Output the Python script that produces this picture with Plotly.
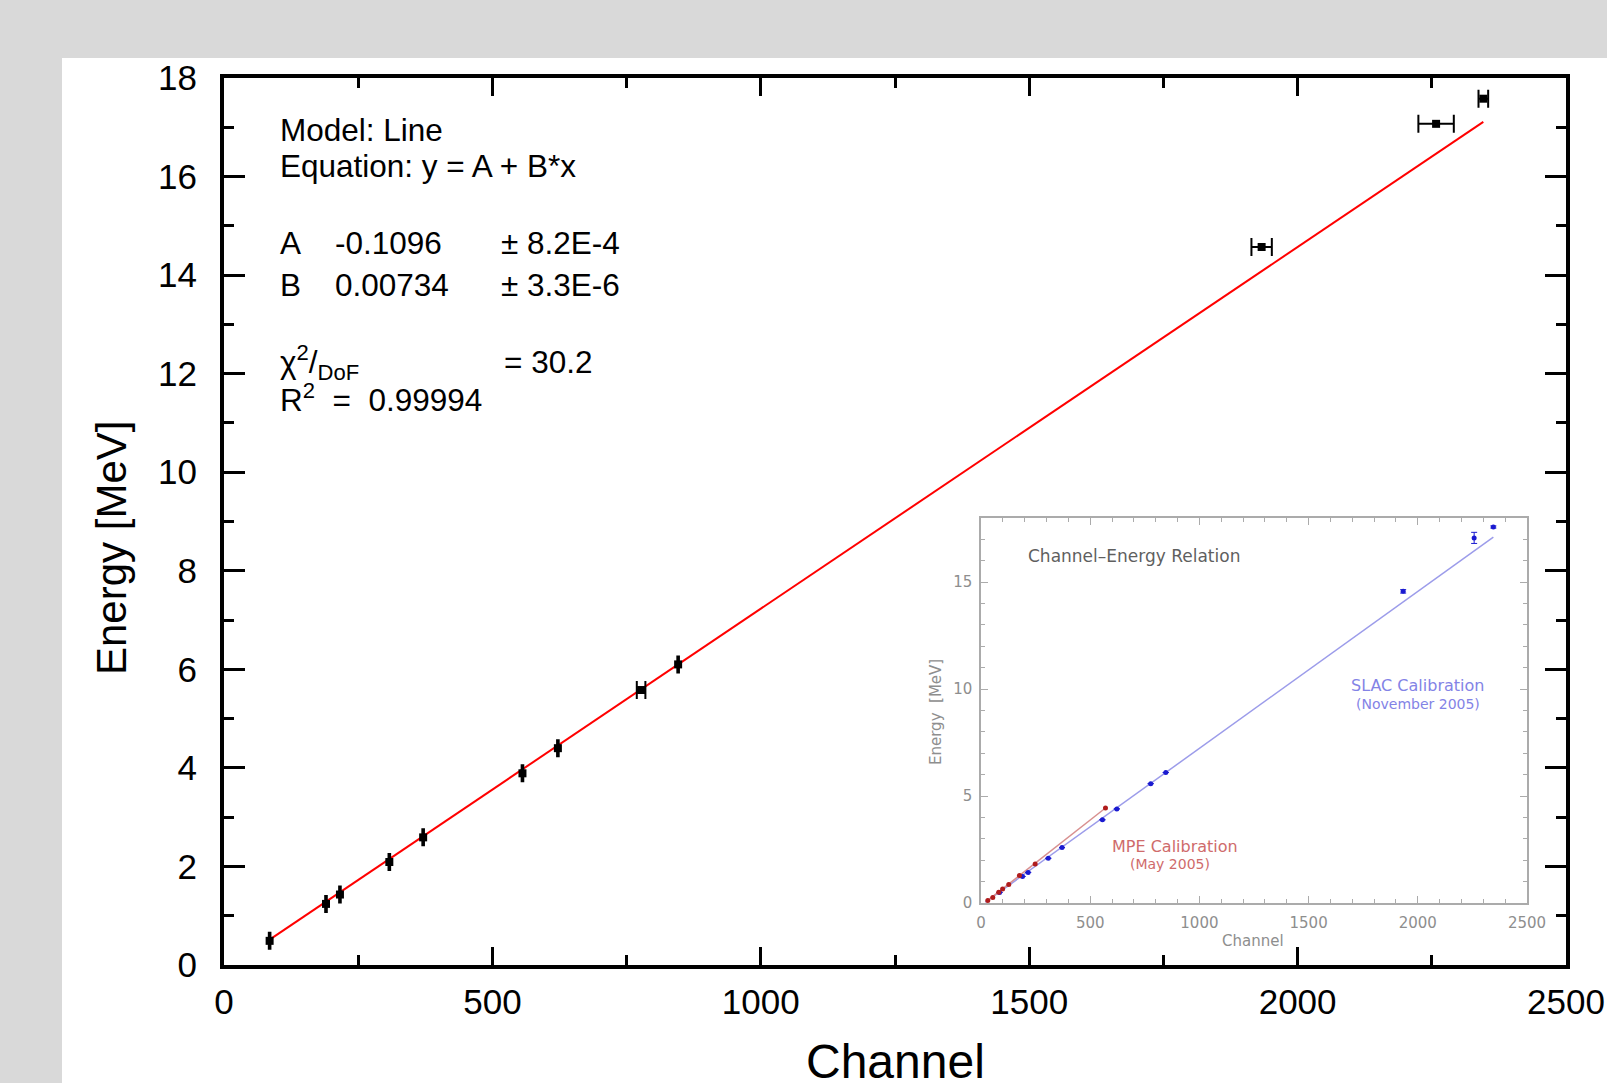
import plotly.graph_objects as go

# ---- SLAC calibration data: ADC channel vs. gamma energy -------------------
slac_channel = [85, 190, 216, 308, 371, 556, 622, 777, 846, 1933, 2258, 2346]
slac_energy = [0.49, 1.24, 1.43, 2.09, 2.59, 3.89, 4.40, 5.58, 6.10, 14.57, 17.07, 17.58]
slac_channel_err = [1.5, 1.5, 1.5, 1.5, 1.5, 1.5, 1.5, 8, 1.5, 19, 33, 9]
# energy uncertainties shown in the older overview plot
slac_energy_err_overview = [0, 0, 0, 0, 0, 0, 0, 0, 0, 0.08, 0.26, 0.05]

# ---- MPE calibration (May 2005) ---------------------------------------------
mpe_channel = [31, 54, 81, 99, 127, 176, 248, 570]
mpe_energy = [0.12, 0.26, 0.50, 0.65, 0.87, 1.28, 1.82, 4.44]
mpe_line_channel = [31, 570]
mpe_line_energy = [0.12, 4.44]

# ---- linear fit  y = A + B*x ------------------------------------------------
fit_a = -0.1096
fit_b = 0.00734
fit_a_err = "8.2E-4"
fit_b_err = "3.3E-6"
chi2_dof = "30.2"
r_squared = "0.99994"

x_ticks = [0, 500, 1000, 1500, 2000, 2500]
y_ticks = [0, 2, 4, 6, 8, 10, 12, 14, 16, 18]
overview_y_ticks = [0, 5, 10, 15]

# ---- figure geometry (pixels) -----------------------------------------------
W, H = 1607, 1083
L, R, T, B = 224, 1566, 78, 965
PW, PH = R - L, B - T


def fx(px):
    return (px - L) / PW


def fy(py):
    return (B - py) / PH


FONT = "Liberation Sans, Arial, sans-serif"
SMALL = "DejaVu Sans, sans-serif"

fit_x = [min(slac_channel), max(slac_channel)]
fit_y = [fit_a + fit_b * c for c in fit_x]
ov_x = [20, max(slac_channel)]
ov_y = [fit_a + fit_b * c for c in ov_x]

fig = go.Figure()

# main panel
fig.add_trace(go.Scatter(
    x=fit_x, y=fit_y, mode="lines",
    line=dict(color="#ff0000", width=2), hoverinfo="skip", showlegend=False))
fig.add_trace(go.Scatter(
    x=slac_channel, y=slac_energy, mode="markers",
    marker=dict(symbol="square", size=8, color="black"),
    error_x=dict(type="data", array=slac_channel_err, visible=True,
                 color="black", thickness=2, width=9),
    showlegend=False))

# overview panel
fig.add_trace(go.Scatter(
    x=ov_x, y=ov_y, mode="lines", xaxis="x2", yaxis="y2",
    line=dict(color="#9c9cea", width=1.5), showlegend=False))
fig.add_trace(go.Scatter(
    x=mpe_line_channel, y=mpe_line_energy, mode="lines", xaxis="x2", yaxis="y2",
    line=dict(color="#d89090", width=1.5), showlegend=False))
fig.add_trace(go.Scatter(
    x=slac_channel, y=slac_energy, mode="markers", xaxis="x2", yaxis="y2",
    marker=dict(symbol="circle", size=5, color="#1a1ad0"),
    error_y=dict(type="data", array=slac_energy_err_overview, visible=True,
                 color="#1a1ad0", thickness=1, width=3),
    showlegend=False))
fig.add_trace(go.Scatter(
    x=mpe_channel, y=mpe_energy, mode="markers", xaxis="x2", yaxis="y2",
    marker=dict(symbol="circle", size=5, color="#b01c1c"),
    showlegend=False))

axis_common = dict(
    automargin=False, showgrid=False, zeroline=False, showline=True,
    linecolor="black", linewidth=4, mirror="allticks", ticks="inside",
    tickcolor="black", tickwidth=3,
    tickfont=dict(family=FONT, size=35, color="black"),
)

ov_common = dict(
    automargin=False, showgrid=False, zeroline=False, showline=True,
    linecolor="#ababab", linewidth=1.5, mirror="allticks", ticks="inside",
    tickcolor="#ababab", tickwidth=1, ticklen=7,
    tickfont=dict(family=SMALL, size=15, color="#8e8e8e"),
)

fig.update_layout(
    width=W, height=H,
    margin=dict(l=L, r=W - R, t=T, b=H - B, pad=0, autoexpand=False),
    paper_bgcolor="#d9d9d9", plot_bgcolor="white",
    xaxis=dict(range=[0, 2500], tickvals=x_ticks, ticklen=18,
               minor=dict(dtick=250, ticklen=10, tickwidth=3, tickcolor="black",
                          ticks="inside"),
               ticklabelstandoff=3, **axis_common),
    yaxis=dict(range=[0, 18], tickvals=y_ticks, ticklen=21,
               minor=dict(dtick=1, ticklen=10, tickwidth=3, tickcolor="black",
                          ticks="inside"),
               ticklabelstandoff=16, **axis_common),
    xaxis2=dict(domain=[fx(981), fx(1527)], anchor="y2", range=[0, 2500],
                tickvals=x_ticks,
                minor=dict(dtick=100, ticklen=4, tickcolor="#ababab", ticks="inside"),
                ticklabelstandoff=5, **ov_common),
    yaxis2=dict(domain=[fy(903), fy(518)], anchor="x2", range=[0, 18],
                tickvals=overview_y_ticks,
                minor=dict(dtick=1, ticklen=4, tickcolor="#ababab", ticks="inside"),
                ticklabelstandoff=4, **ov_common),
    shapes=[dict(type="rect", xref="paper", yref="paper", layer="below",
                 x0=fx(62), x1=fx(W + 5), y0=fy(H + 5), y1=fy(58),
                 fillcolor="white", line=dict(width=0))],
)

NB = "\u00a0"
ann = []


def text(px, py, s, size=31, color="black", family=FONT, xanchor="left", angle=0):
    ann.append(dict(xref="paper", yref="paper", x=fx(px), y=fy(py), text=s,
                    showarrow=False, xanchor=xanchor, yanchor="middle",
                    textangle=angle,
                    font=dict(family=family, size=size, color=color)))


# fit summary
text(278, 130, "Model: Line", size=31.5)
text(278, 166, "Equation: y = A + B*x", size=31.5)
text(278, 243, "A", size=31.5)
text(333, 243, f"{fit_a:.4f}", size=31.5)
text(499, 243, f"±{NB}{fit_a_err}", size=31.5)
text(278, 285, "B", size=31.5)
text(333, 285, f"{fit_b:.5f}", size=31.5)
text(499, 285, f"±{NB}{fit_b_err}", size=31.5)
text(278, 362, "χ<sup>2</sup>/<sub>DoF</sub>", size=31.5)
text(502, 362, f"={NB}{chi2_dof}", size=31.5)
text(278, 398, f"R<sup>2</sup>{NB}{NB}={NB}{NB}{r_squared}", size=31.5)

# axis titles
text(895, 1061, "Channel", size=48, xanchor="center")
text(111, 548, "Energy [MeV]", size=42, xanchor="center", angle=-90)

# overview panel labels
text(1253, 941, "Channel", size=15, color="#8e8e8e", family=SMALL, xanchor="center")
text(936, 712, "Energy  [MeV]", size=15, color="#8e8e8e", family=SMALL,
     xanchor="center", angle=-90)
text(1134, 556, "Channel–Energy Relation", size=17, color="#5f5f5f", family=SMALL,
     xanchor="center")
text(1175, 846, "MPE Calibration", size=16, color="#cf6b6b", family=SMALL,
     xanchor="center")
text(1170, 864, "(May 2005)", size=14, color="#cf6b6b", family=SMALL,
     xanchor="center")
text(1417, 685, "SLAC Calibration", size=16, color="#8383e6", family=SMALL,
     xanchor="center")
text(1418, 704, "(November 2005)", size=14, color="#8383e6", family=SMALL,
     xanchor="center")

fig.update_layout(annotations=ann)

fig.write_html("out.html")
